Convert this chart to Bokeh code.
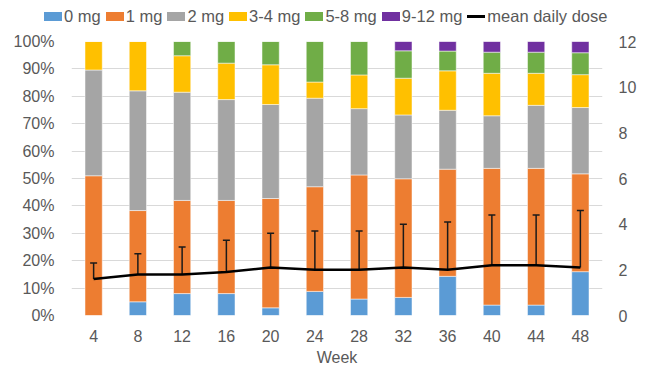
from bokeh.plotting import figure
from bokeh.layouts import column
from bokeh.models import (FactorRange, Range1d, LinearAxis, NumeralTickFormatter,
                          SingleIntervalTicker, ColumnDataSource, Div)
from bokeh.embed import file_html
from bokeh.resources import INLINE

weeks = ["4", "8", "12", "16", "20", "24", "28", "32", "36", "40", "44", "48"]
series_names = ["0 mg", "1 mg", "2 mg", "3-4 mg", "5-8 mg", "9-12 mg"]
line_name = "mean daily dose"
# percentages per dose category
mg0 = [0, 5, 8, 8, 2.8, 8.8, 6, 6.6, 14.3, 3.8, 3.8, 16]
mg1 = [51, 33.3, 34, 34, 39.9, 38.2, 45.3, 43.3, 39.1, 49.9, 49.9, 35.7]
mg2 = [38.6, 43.7, 39.5, 36.8, 34.3, 32.3, 24.2, 23.3, 21.5, 19.2, 23, 24.2]
mg34 = [10.4, 18, 13.3, 13.3, 14.5, 5.9, 12.3, 13.4, 14.4, 15.5, 11.7, 12]
mg58 = [0, 0, 5.2, 7.9, 8.5, 14.8, 12.2, 10, 7.2, 7.7, 7.7, 8]
mg912 = [0, 0, 0, 0, 0, 0, 0, 3.4, 3.5, 3.9, 3.9, 4.1]
mean_dose = [1.6, 1.8, 1.8, 1.9, 2.1, 2.0, 2.0, 2.1, 2.0, 2.2, 2.2, 2.1]
upper_dose = [2.3, 2.7, 3.0, 3.3, 3.6, 3.7, 3.7, 4.0, 4.1, 4.4, 4.4, 4.6]

colors = ["#5B9BD5", "#ED7D31", "#A5A5A5", "#FFC000", "#70AD47", "#7030A0"]
keys = ["s0", "s1", "s2", "s3", "s4", "s5"]

data = {"week": weeks}
for k, s in zip(keys, [mg0, mg1, mg2, mg34, mg58, mg912]):
    data[k] = [v / 100.0 for v in s]
data["mean"] = mean_dose
data["upper"] = upper_dose
src = ColumnDataSource(data)

FONT = "Liberation Sans"
GREY = "#595959"
TICK_SIZE = "16px"

# ---------- legend strip (HTML) ----------
parts = []
for n, c in zip(series_names, colors):
    parts.append(
        f'<span style="display:inline-block;width:18px;height:9px;background:{c};'
        f'margin-right:2px"></span><span style="margin-right:5px">{n}</span>')
parts.append(
    '<span style="display:inline-block;width:18px;height:3px;background:#000;'
    f'margin-right:2px"></span><span>{line_name}</span>')
legend_html = (
    f'<div style="position:relative;width:646px;height:30px;font-family:\'{FONT}\';'
    f'font-size:16.5px;color:{GREY};">'
    '<div style="position:absolute;left:44px;top:6px;display:flex;align-items:center;'
    'white-space:nowrap;line-height:20px;">' + "".join(parts) + '</div></div>')
lg = Div(text=legend_html, width=646, height=30, margin=(0, 0, 0, 0))

# ---------- main chart ----------
p = figure(width=646, height=338, x_range=FactorRange(*weeks, range_padding=0),
           y_range=Range1d(0, 1), output_backend="svg", toolbar_location=None,
           min_border_left=71, min_border_right=44, min_border_top=11,
           min_border_bottom=53, margin=(0, 0, 0, 0))
p.outline_line_color = None
p.xgrid.grid_line_color = None
p.ygrid.grid_line_color = "#D9D9D9"
p.ygrid.grid_line_width = 1

p.vbar_stack(keys, x="week", width=0.39, color=colors, source=src,
             line_color="white", line_width=0.5)

p.extra_y_ranges = {"dose": Range1d(0, 12)}
p.segment(x0="week", y0="mean", x1="week", y1="upper", source=src,
          y_range_name="dose", line_color="#1a1a1a", line_width=1.5)
p.scatter(x="week", y="upper", source=src, y_range_name="dose", marker="dash",
          size=7, line_color="#1a1a1a", line_width=1.5)
p.line(x="week", y="mean", source=src, y_range_name="dose",
       line_color="black", line_width=2.5)

ya = p.yaxis[0]
ya.ticker = SingleIntervalTicker(interval=0.1)
ya.formatter = NumeralTickFormatter(format="0%")
ya.axis_line_color = None
ya.major_tick_line_color = None
ya.minor_tick_line_color = None
ya.major_label_text_font = FONT
ya.major_label_text_font_size = TICK_SIZE
ya.major_label_text_color = GREY
ya.major_label_standoff = 11

ra = LinearAxis(y_range_name="dose", ticker=SingleIntervalTicker(interval=2))
ra.axis_line_color = None
ra.major_tick_line_color = None
ra.minor_tick_line_color = None
ra.major_label_text_font = FONT
ra.major_label_text_font_size = TICK_SIZE
ra.major_label_text_color = GREY
ra.major_label_standoff = 10
p.add_layout(ra, "right")

xa = p.xaxis[0]
xa.axis_line_color = None
xa.major_tick_line_color = None
xa.minor_tick_line_color = None
xa.major_label_text_font = FONT
xa.major_label_text_font_size = TICK_SIZE
xa.major_label_text_color = GREY
xa.major_label_standoff = 8
xa.axis_label = "Week"
xa.axis_label_text_font = FONT
xa.axis_label_text_font_size = TICK_SIZE
xa.axis_label_text_color = GREY
xa.axis_label_text_font_style = "normal"
xa.axis_label_standoff = 4

layout = column(lg, p, spacing=0)
open("out.html", "w").write(file_html(layout, INLINE))
